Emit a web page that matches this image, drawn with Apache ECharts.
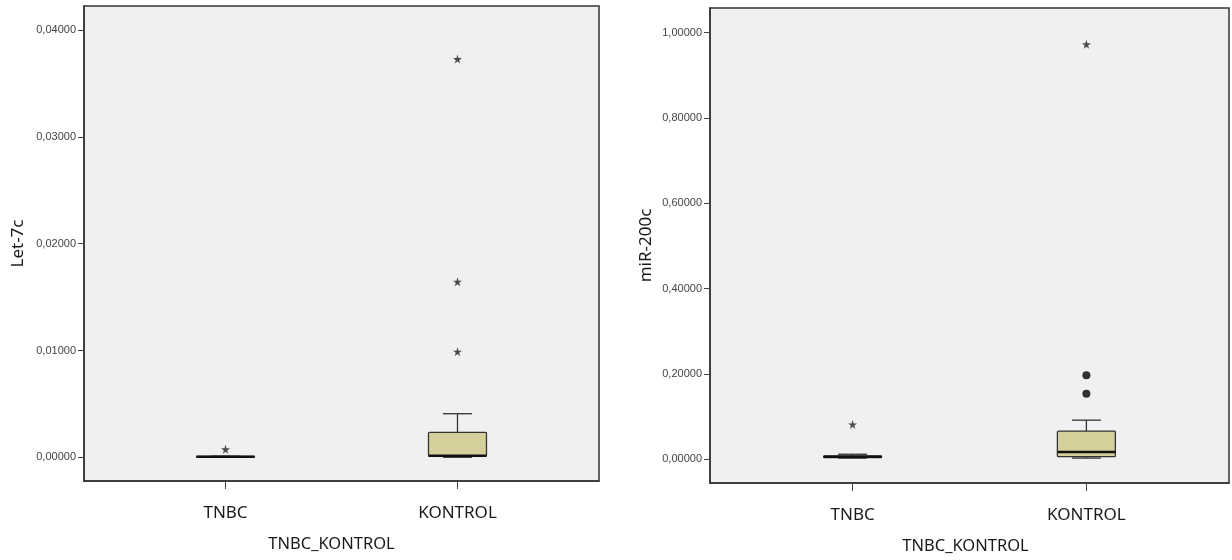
<!DOCTYPE html>
<html>
<head>
<meta charset="utf-8">
<script src="https://cdn.jsdelivr.net/npm/echarts@6/dist/echarts.min.js"></script>
<style>
  html, body { margin: 0; padding: 0; background: #ffffff; }
  #chart { width: 1232px; height: 560px; }
</style>
</head>
<body>
<div id="chart"></div>
<script>
// Groups shown on both panels (x positions 1 and 2)
const categories = ['TNBC', 'KONTROL'];

// Let-7c: [min, Q1, median, Q3, max] per group
const let7cBoxes = [
  [0.00000, 0.00003, 0.00005, 0.00008, 0.00010],
  [0.00000, 0.00012, 0.00015, 0.00234, 0.00408]
];
// Let-7c extreme values (stars): [group index, value]
const let7cExtremes = [[0, 0.00075], [1, 0.03729], [1, 0.01644], [1, 0.00989]];
const let7cTicks = [0, 0.01, 0.02, 0.03, 0.04];

// miR-200c: [min, Q1, median, Q3, max] per group
const mir200cBoxes = [
  [0.0030, 0.0040, 0.0060, 0.0080, 0.0120],
  [0.0030, 0.0063, 0.0171, 0.0662, 0.0919]
];
// miR-200c outliers (dots) and extremes (stars): [group index, value]
const mir200cOutliers = [[1, 0.197], [1, 0.154]];
const mir200cExtremes = [[0, 0.0819], [1, 0.973]];
const mir200cTicks = [0, 0.2, 0.4, 0.6, 0.8, 1.0];

const STAR = 'path://M50,0 L61,35 L98,35 L68,57 L79,91 L50,70 L21,91 L32,57 L2,35 L39,35 Z';
const FRAME = '#333333';

function boxItem(params, api) {
  const x = api.value(0);
  const pMin = api.coord([x, api.value(1)]);
  const pQ1 = api.coord([x, api.value(2)]);
  const pMed = api.coord([x, api.value(3)]);
  const pQ3 = api.coord([x, api.value(4)]);
  const pMax = api.coord([x, api.value(5)]);
  const boxW = 58, capW = 29;
  const cx = pMed[0];
  const lineStyle = { stroke: '#333333', lineWidth: 1.3 };
  return {
    type: 'group',
    children: [
      { type: 'line', shape: { x1: cx, y1: pQ3[1], x2: cx, y2: pMax[1] }, style: lineStyle },
      { type: 'line', shape: { x1: cx - capW / 2, y1: pMax[1], x2: cx + capW / 2, y2: pMax[1] }, style: lineStyle },
      { type: 'line', shape: { x1: cx, y1: pQ1[1], x2: cx, y2: pMin[1] }, style: lineStyle },
      { type: 'line', shape: { x1: cx - capW / 2, y1: pMin[1], x2: cx + capW / 2, y2: pMin[1] }, style: lineStyle },
      { type: 'rect', shape: { x: cx - boxW / 2, y: pQ3[1], width: boxW, height: Math.max(pQ1[1] - pQ3[1], 0.5), r: 1 },
        style: { fill: '#d4cf9b', stroke: '#333333', lineWidth: 1.3 } },
      { type: 'line', shape: { x1: cx - boxW / 2, y1: pMed[1], x2: cx + boxW / 2, y2: pMed[1] },
        style: { stroke: '#111111', lineWidth: 2.6 } }
    ]
  };
}

function toBoxData(boxes) {
  return boxes.map((b, i) => [i + 1].concat(b));
}
function toPoints(list) {
  return list.map(p => [p[0] + 1, p[1]]);
}
function fmt(v) {
  return v.toFixed(5).replace('.', ',');
}

function xAxis(gridIndex, nameGap, nameShift) {
  return {
    type: 'value', gridIndex: gridIndex, min: 0.39, max: 2.61,
    name: 'TNBC_KONTROL', nameLocation: 'middle', nameGap: nameGap,
    nameTextStyle: { fontFamily: 'Noto Sans', fontSize: 16.5, color: '#1a1a1a', padding: [0, nameShift * 2, 0, 0] },
    splitLine: { show: false },
    axisLine: { show: true, onZero: false, lineStyle: { color: FRAME, width: 1.5 } },
    axisTick: { show: true, length: 8, customValues: [1, 2], lineStyle: { color: '#444444' } },
    axisLabel: {
      customValues: [1, 2], margin: 24,
      fontFamily: 'Noto Sans', fontSize: 17, color: '#1a1a1a',
      formatter: v => categories[Math.round(v) - 1]
    }
  };
}

function yAxis(gridIndex, min, max, ticks, name, nameGap) {
  return {
    type: 'value', gridIndex: gridIndex, min: min, max: max,
    name: name, nameLocation: 'middle', nameGap: nameGap,
    nameTextStyle: { fontFamily: 'Noto Sans', fontSize: 17, color: '#1a1a1a' },
    splitLine: { show: false },
    axisLine: { show: true, onZero: false, lineStyle: { color: FRAME, width: 1.5 } },
    axisTick: { show: true, length: 6, customValues: ticks, lineStyle: { color: '#444444' } },
    axisLabel: {
      customValues: ticks, margin: 8,
      fontFamily: 'Liberation Sans', fontSize: 11, color: '#444444',
      formatter: fmt
    }
  };
}

const chart = echarts.init(document.getElementById('chart'));
chart.setOption({
  animation: false,
  grid: [
    { left: 84, top: 6, width: 515, height: 475, show: true, backgroundColor: '#f0f0f0', borderColor: FRAME, borderWidth: 1.5 },
    { left: 710, top: 8, width: 519, height: 476, show: true, backgroundColor: '#f0f0f0', borderColor: FRAME, borderWidth: 1.5 }
  ],
  xAxis: [xAxis(0, 55, 10), xAxis(1, 55, 4)],
  yAxis: [
    yAxis(0, -0.00222, 0.04226, let7cTicks, 'Let-7c', 57),
    yAxis(1, -0.0554, 1.058, mir200cTicks, 'miR-200c', 55)
  ],
  series: [
    { type: 'custom', xAxisIndex: 0, yAxisIndex: 0, renderItem: boxItem, data: toBoxData(let7cBoxes), z: 2 },
    { type: 'scatter', xAxisIndex: 0, yAxisIndex: 0, symbol: STAR, symbolSize: 9,
      itemStyle: { color: '#222222' }, data: toPoints(let7cExtremes), z: 3 },
    { type: 'custom', xAxisIndex: 1, yAxisIndex: 1, renderItem: boxItem, data: toBoxData(mir200cBoxes), z: 2 },
    { type: 'scatter', xAxisIndex: 1, yAxisIndex: 1, symbol: 'circle', symbolSize: 8,
      itemStyle: { color: '#000000' }, data: toPoints(mir200cOutliers), z: 3 },
    { type: 'scatter', xAxisIndex: 1, yAxisIndex: 1, symbol: STAR, symbolSize: 9,
      itemStyle: { color: '#222222' }, data: toPoints(mir200cExtremes), z: 3 }
  ]
});
</script>
</body>
</html>
